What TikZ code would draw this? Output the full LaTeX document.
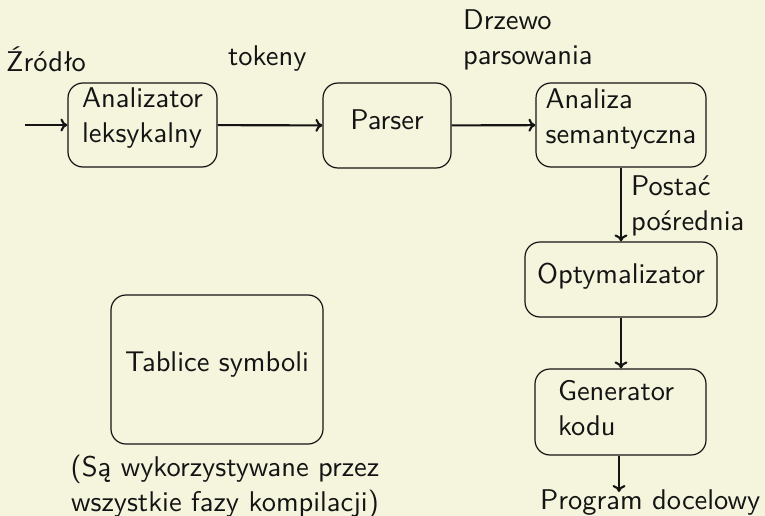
\documentclass[tikz,border=0pt]{standalone}
\usepackage{fontspec}
\setsansfont{lmsans10-regular.otf}
\usetikzlibrary{arrows.meta}
\definecolor{paper}{RGB}{245,245,222}
\definecolor{ink}{RGB}{20,20,20}
\begin{document}
\begin{tikzpicture}[x=1pt,y=-1pt,
  every node/.style={font=\sffamily\fontsize{28.5}{35}\selectfont, text=ink},
  phase/.style={draw=ink, line width=1.2pt, rounded corners=15pt, align=left, inner sep=0pt},
  flow/.style={draw=ink, line width=2.1pt, -{To[length=7pt,width=13pt]}},
  note/.style={inner sep=0pt, align=left}
]
  % page
  \fill[paper] (0,0) rectangle (765,516);
  \useasboundingbox (0,0) rectangle (765,516);

  % compiler phases (text depth sets where the text sits inside each box)
  \node[phase, minimum width=149pt, minimum height=84pt, text depth=18.8pt] (lex) at (142.5,125) {Analizator\\leksykalny};
  \node[phase, minimum width=128pt, minimum height=85pt, text depth=10.8pt] (par) at (387,125.5) {Parser};
  \node[phase, minimum width=170pt, minimum height=84pt, text depth=16.8pt] (sem) at (621,125) {Analiza\\semantyczna};
  \node[phase, minimum width=192pt, minimum height=75pt, text depth=13.2pt] (opt) at (621,279.5) {Optymalizator};
  \node[phase, minimum width=171pt, minimum height=86pt, text width=125pt, text depth=44.1pt] (gen) at (620.5,412) {Generator\\kodu};
  \node[phase, minimum width=212pt, minimum height=149pt, text depth=15pt] (tab) at (217,369.5) {Tablice symboli};

  % connector ends
  \coordinate (src) at (25,125);
  \coordinate (out) at (619,492);

  % flow of the program through the phases
  \draw[flow] (src) -- (lex);
  \draw[flow] (lex) -- (par);
  \draw[flow] (par) -- (sem);
  \draw[flow] (sem.south -| opt.north) -- (opt.north);
  \draw[flow] (opt) -- (gen.north -| opt.south);
  \draw[flow] (gen.south -| out) -- (out);

  % labels (the base of a two-line label is its last line)
  \node[note, anchor=base west] (lsrc) at (6,72) {Źródło};
  \node[note, anchor=base west] (ltok) at (228,66) {tokeny};
  \node[note, anchor=base west] (ltree) at (463,65) {Drzewo\\parsowania};
  \node[note, anchor=base west] (lmid) at (631,230) {Postać\\pośrednia};
  \node[note, anchor=base west] (lout) at (540,509) {Program docelowy};
  \node[inner sep=0pt, align=center, anchor=base] (ltab) at (225,511) {(Są wykorzystywane przez\\wszystkie fazy kompilacji)};
\end{tikzpicture}
\end{document}
